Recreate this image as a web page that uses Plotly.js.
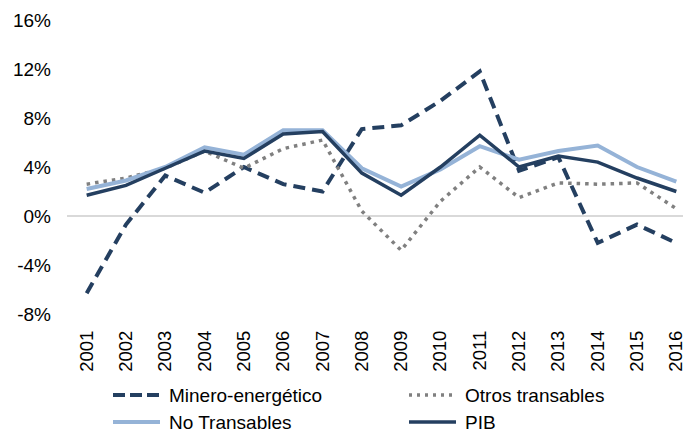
<!DOCTYPE html>
<html>
<head>
<meta charset="utf-8">
<script src="https://cdn.plot.ly/plotly-3.0.1.min.js"></script>
<style>
  html, body { margin: 0; padding: 0; background: #ffffff; overflow: hidden; }
  #chart { width: 683px; height: 431px; }
</style>
</head>
<body>
<div id="chart"></div>
<script>
// Data (annual growth, %)
const years = ['2001','2002','2003','2004','2005','2006','2007','2008','2009','2010','2011','2012','2013','2014','2015','2016'];
const mineroEnergetico = [-6.3, -0.7, 3.3, 1.9, 4.0, 2.6, 2.0, 7.1, 7.4, 9.4, 11.8, 3.7, 4.8, -2.2, -0.7, -2.2];
const otrosTransables  = [2.6, 3.1, 3.9, 5.3, 3.9, 5.5, 6.2, 0.4, -2.8, 1.2, 4.0, 1.5, 2.7, 2.6, 2.7, 0.6];
const noTransables     = [2.2, 2.9, 4.0, 5.6, 5.0, 7.0, 7.0, 3.9, 2.4, 3.8, 5.7, 4.6, 5.3, 5.75, 4.0, 2.8];
const pib              = [1.7, 2.5, 3.9, 5.3, 4.7, 6.7, 6.9, 3.5, 1.7, 4.0, 6.6, 4.0, 4.9, 4.4, 3.1, 2.0];
const seriesNames = ['Minero-energético', 'Otros transables', 'No Transables', 'PIB'];
const yTickVals = [-8, -4, 0, 4, 8, 12, 16];
const yTickText = ['-8%', '-4%', '0%', '4%', '8%', '12%', '16%'];

const FONT = 'Arial, "Liberation Sans", sans-serif';
const navy = '#243F60';

// Styles per series (same order as seriesNames)
const styles = [
  { color: navy,      width: 4,   dash: '12px,7px', legendDash: '12px,5px' },
  { color: '#808080', width: 3.5, dash: '3.5px,5px', legendDash: '3px,5px' },
  { color: '#95B3D7', width: 4,   dash: 'solid',    legendDash: 'solid' },
  { color: navy,      width: 3.5, dash: 'solid',    legendDash: 'solid' }
];
const seriesValues = [mineroEnergetico, otrosTransables, noTransables, pib];

const traces = seriesValues.map((vals, i) => ({
  x: years, y: vals, name: seriesNames[i], type: 'scatter', mode: 'lines',
  line: { color: styles[i].color, width: styles[i].width, dash: styles[i].dash },
  showlegend: false
}));

// Figure geometry (pixels) used to place the hand-built legend
const W = 683, H = 431, ML = 67, MR = 0, MT = 20, MB = 117;
const plotW = W - ML - MR, plotH = H - MT - MB;
const px = v => (v - ML) / plotW;
const py = v => (H - MB - v) / plotH;

// Legend layout: two columns, two rows (Excel-like)
const legendCols = [113, 409];
const legendRows = [395, 422];
const sampleLen = 47, textGap = 7;
const shapes = [], annotations = [];
seriesNames.forEach((name, i) => {
  const cx = legendCols[i % 2], cy = legendRows[Math.floor(i / 2)];
  shapes.push({
    type: 'line', xref: 'paper', yref: 'paper',
    x0: px(cx), x1: px(cx + sampleLen), y0: py(cy), y1: py(cy),
    line: { color: styles[i].color, width: styles[i].width, dash: styles[i].legendDash }
  });
  annotations.push({
    xref: 'paper', yref: 'paper', x: px(cx + sampleLen + textGap), y: py(cy),
    xanchor: 'left', yanchor: 'middle', showarrow: false, text: name,
    font: { family: FONT, size: 19, color: '#000000' }
  });
});

const layout = {
  width: W, height: H,
  margin: { l: ML, r: MR, t: MT, b: MB, pad: 0 },
  paper_bgcolor: '#ffffff', plot_bgcolor: '#ffffff',
  font: { family: FONT, size: 19, color: '#000000' },
  showlegend: false,
  shapes: shapes,
  annotations: annotations,
  xaxis: {
    type: 'category',
    range: [-0.5, 15.17],
    showgrid: false, zeroline: false, showline: false,
    ticks: '', tickangle: -90,
    ticklabelstandoff: 12,
    tickfont: { family: FONT, size: 18.5, color: '#000000' },
    fixedrange: true
  },
  yaxis: {
    range: [-8, 16],
    tickvals: yTickVals, ticktext: yTickText,
    showgrid: false, showline: false,
    zeroline: true, zerolinecolor: '#D9D9D9', zerolinewidth: 1.3,
    ticks: '', ticklabelstandoff: 15,
    tickfont: { family: FONT, size: 19, color: '#000000' },
    fixedrange: true
  }
};

Plotly.newPlot('chart', traces, layout, { displayModeBar: false, staticPlot: true });
</script>
</body>
</html>
